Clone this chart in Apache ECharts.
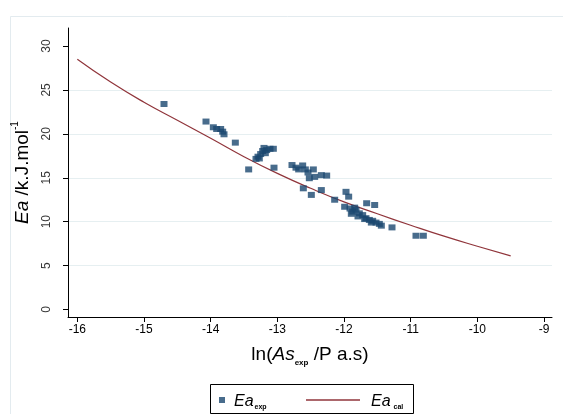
<!DOCTYPE html>
<html>
<head>
<meta charset="utf-8">
<script src="https://cdn.jsdelivr.net/npm/echarts@6/dist/echarts.min.js"></script>
<style>html,body{margin:0;padding:0;background:#fff}#c{width:563px;height:414px}</style>
</head>
<body>
<div id="c"></div>
<script>
// Experimental points: ln(As_exp) and Ea_exp
const expX = [-14.70,-14.07,-13.96,-13.91,-13.85,-13.82,-13.80,-13.63,-13.43,-13.32,-13.29,-13.25,-13.27,-13.22,-13.20,-13.18,-13.16,-13.11,-13.06,-13.05,
  -12.78,-12.72,-12.68,-12.62,-12.58,-12.54,-12.46,-12.52,-12.44,-12.34,-12.26,-12.61,-12.49,-12.34,-12.14,-11.97,-11.93,-11.99,-11.91,-11.87,
  -11.82,-11.77,-11.72,-11.67,-11.62,-11.57,-11.52,-11.47,-11.89,-11.79,-11.69,-11.59,-11.66,-11.54,-11.28,-10.92,-10.81,-11.44,-11.84];
const expY = [23.4,21.4,20.75,20.55,20.55,20.25,19.95,19.0,15.95,17.15,17.4,17.7,17.2,18.05,18.4,17.8,18.15,18.3,18.3,16.15,
  16.45,16.15,15.95,16.4,15.95,15.6,15.95,14.95,15.1,15.3,15.25,13.8,13.05,13.6,12.5,13.4,12.85,11.7,11.5,11.15,
  11.35,10.95,10.75,10.4,10.2,10.1,9.9,9.75,10.9,10.6,10.3,9.9,12.1,11.9,9.35,8.4,8.4,9.55,11.6];
// Calculated curve
const calX = [-16,-15.5,-15,-14.5,-14,-13.5,-13,-12.5,-12,-11.5,-11,-10.5,-10,-9.5];
const calY = [28.5,25.9,23.6,21.55,19.5,17.4,15.5,13.8,12.25,10.9,9.6,8.35,7.2,6.1];
// Tick values
const xTicks = [-16,-15,-14,-13,-12,-11,-10,-9];
const yTicks = [0,5,10,15,20,25,30];

const X_MIN = -16.14, X_MAX = -8.88, Y_MIN = -0.85, Y_MAX = 32.05;
const navy = '#1a476f', maroon = '#90353b';
const FONT = '"Liberation Sans", Arial, sans-serif';

const chart = echarts.init(document.getElementById('c'), null, {renderer:'canvas'});
chart.setOption({
  animation:false,
  backgroundColor:'#ffffff',
  graphic:[
    {type:'rect', left:8, top:14, shape:{width:700, height:600}, style:{fill:'none', stroke:'#e3ebef', lineWidth:1}, z:-10},
    {type:'rect', left:210, top:384, shape:{width:203, height:29}, style:{fill:'#fff', stroke:'#000', lineWidth:1}, z:-5}
  ],
  grid:{left:68, right:11, top:28, bottom:97},
  xAxis:{
    type:'value', min:X_MIN, max:X_MAX,
    axisLine:{show:true, onZero:false, lineStyle:{color:'#000', width:1}},
    axisTick:{show:true, length:5, customValues:xTicks, lineStyle:{color:'#000'}},
    axisLabel:{customValues:xTicks, margin:7, color:'#000', fontFamily:FONT, fontSize:12, formatter:v=>String(v)},
    splitLine:{show:false},
    name:'{n|ln(}{i|As}{s|exp}{n| /P a.s)}', nameLocation:'middle', nameGap:25,
    nameTextStyle:{rich:{
      n:{fontFamily:FONT, fontSize:19, color:'#000', lineHeight:22, verticalAlign:'bottom'},
      i:{fontFamily:FONT, fontSize:19, fontStyle:'italic', color:'#000', lineHeight:22, verticalAlign:'bottom'},
      s:{fontFamily:FONT, fontSize:8, fontWeight:'bold', color:'#000', lineHeight:22, verticalAlign:'bottom', padding:[0,0,-3,0]}
    }}
  },
  yAxis:{
    type:'value', min:Y_MIN, max:Y_MAX,
    axisLine:{show:true, onZero:false, lineStyle:{color:'#000', width:1}},
    axisTick:{show:true, length:5, customValues:yTicks, lineStyle:{color:'#000'}},
    axisLabel:{show:false},
    splitLine:{show:true, showMinLine:false, showMaxLine:false, lineStyle:{color:'#e6eff1', width:1}},
    name:'{i|Ea}{n| /k.J.mol}{s|-1}', nameLocation:'middle', nameGap:36, nameRotate:90,
    nameTextStyle:{rich:{
      n:{fontFamily:FONT, fontSize:19, color:'#000', lineHeight:22, verticalAlign:'bottom'},
      i:{fontFamily:FONT, fontSize:19, fontStyle:'italic', color:'#000', lineHeight:22, verticalAlign:'bottom'},
      s:{fontFamily:FONT, fontSize:10, color:'#000', lineHeight:22, verticalAlign:'top'}
    }}
  },
  legend:[
    {left:214, top:389, itemWidth:6, itemHeight:6, icon:'rect', data:['Ea_exp'], selectedMode:false,
     formatter:()=>'{i|Ea}{s|exp}',
     textStyle:{padding:[0,0,0,4], rich:{
       i:{fontFamily:FONT, fontSize:16, fontStyle:'italic', color:'#000', lineHeight:20, verticalAlign:'bottom'},
       s:{fontFamily:FONT, fontSize:7, fontWeight:'bold', color:'#000', lineHeight:20, verticalAlign:'bottom', padding:[0,0,-1,1]}}}},
    {left:301, top:389, itemWidth:54, itemHeight:1.5, icon:'rect', data:['Ea_cal'], selectedMode:false,
     formatter:()=>'{i|Ea}{s| cal}',
     textStyle:{padding:[0,0,0,6], rich:{
       i:{fontFamily:FONT, fontSize:16, fontStyle:'italic', color:'#000', lineHeight:20, verticalAlign:'bottom'},
       s:{fontFamily:FONT, fontSize:7, fontWeight:'bold', color:'#000', lineHeight:20, verticalAlign:'bottom', padding:[0,0,-1,1]}}}}
  ],
  series:[
    {name:'Ea_exp', type:'scatter', symbol:'rect', symbolSize:[7,6],
     itemStyle:{color:navy}, data:expX.map((x,i)=>[x,expY[i]]), z:3},
    {name:'Ea_cal', type:'line', smooth:true, symbol:'none', showSymbol:false,
     lineStyle:{color:maroon, width:1.2}, itemStyle:{color:maroon}, data:calX.map((x,i)=>[x,calY[i]]), z:2},
    // vertical y tick labels, placed through the axis scale
    {name:'yTickLabels', type:'scatter', symbolSize:0, silent:true, clip:false, z:5,
     data:yTicks.map(v=>[X_MIN, v]),
     label:{show:true, position:[-21,0], rotate:90, align:'center', verticalAlign:'middle',
       formatter:p=>String(p.value[1]), color:'#000', fontFamily:FONT, fontSize:12}}
  ]
});
</script>
</body>
</html>
